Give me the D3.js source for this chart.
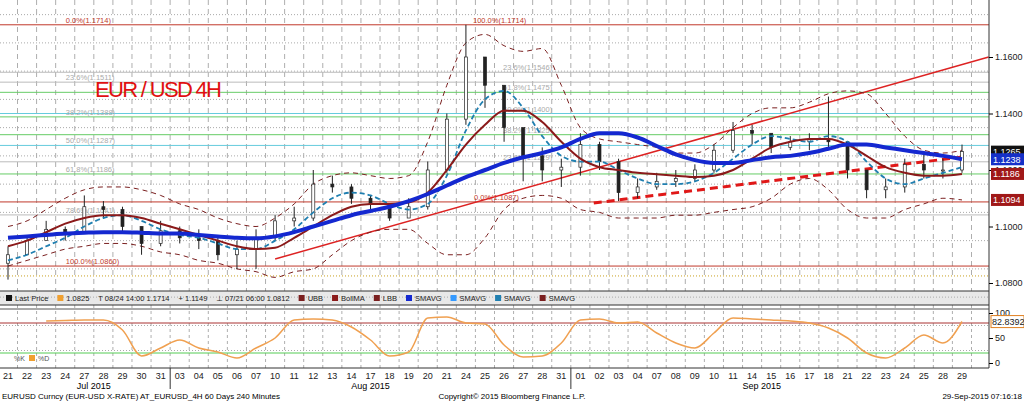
<!DOCTYPE html><html><head><meta charset="utf-8">
<script src="https://cdn.jsdelivr.net/npm/d3@7"></script>
<style>body{margin:0;background:#fff}svg{font-family:"Liberation Sans","DejaVu Sans",sans-serif}</style></head><body>
<svg id="c" width="1024" height="401"></svg>
<script>
const dayLabels=["21","22","23","24","27","28","29","30","31","03","04","05","06","07","10","11","12","13","14","17","18","19","20","21","24","25","26","27","28","31","01","02","03","04","07","08","09","10","11","14","15","16","17","18","21","22","23","24","25","28","29"];
const closes=[1.0900,1.0950,1.0990,1.0980,1.1070,1.1060,1.1000,1.0940,1.0985,1.0960,1.0950,1.0900,1.0920,1.0960,1.1020,1.1030,1.1150,1.1140,1.1100,1.1080,1.1030,1.1070,1.1200,1.1380,1.1600,1.1500,1.1350,1.1250,1.1200,1.1210,1.1290,1.1230,1.1120,1.1140,1.1160,1.1170,1.1200,1.1270,1.1340,1.1330,1.1280,1.1300,1.1310,1.1300,1.1200,1.1130,1.1140,1.1220,1.1200,1.1200,1.1265];
const highs=[1.0930,1.0970,1.1020,1.1000,1.1110,1.1090,1.1070,1.1000,1.1020,1.1000,1.0990,1.0960,1.0950,1.0990,1.1040,1.1070,1.1200,1.1180,1.1150,1.1110,1.1070,1.1100,1.1230,1.1400,1.1714,1.1560,1.1500,1.1300,1.1280,1.1240,1.1330,1.1300,1.1240,1.1170,1.1190,1.1200,1.1220,1.1290,1.1370,1.1360,1.1330,1.1320,1.1330,1.1460,1.1300,1.1180,1.1170,1.1240,1.1260,1.1240,1.1290];
const lows=[1.0812,1.0900,1.0950,1.0950,1.0980,1.1030,1.0980,1.0900,1.0930,1.0940,1.0920,1.0880,1.0850,1.0850,1.0950,1.1000,1.1020,1.1120,1.1080,1.1060,1.1020,1.1030,1.1060,1.1190,1.1360,1.1420,1.1300,1.1160,1.1160,1.1140,1.1180,1.1200,1.1090,1.1100,1.1130,1.1140,1.1160,1.1190,1.1260,1.1290,1.1260,1.1270,1.1270,1.1280,1.1170,1.1100,1.1100,1.1120,1.1170,1.1170,1.1190];
const smaLong=[1.0960,1.0965,1.0970,1.0975,1.0978,1.0980,1.0980,1.0978,1.0975,1.0975,1.0970,1.0965,1.0960,1.0958,1.0965,1.0980,1.1000,1.1020,1.1040,1.1055,1.1070,1.1090,1.1115,1.1145,1.1175,1.1200,1.1225,1.1245,1.1260,1.1280,1.1310,1.1330,1.1330,1.1315,1.1285,1.1255,1.1235,1.1225,1.1225,1.1235,1.1245,1.1250,1.1260,1.1275,1.1290,1.1290,1.1280,1.1270,1.1260,1.1250,1.1238];
const bollMA=[1.0930,1.0950,1.0980,1.1010,1.1030,1.1040,1.1040,1.1030,1.1010,1.0990,1.0970,1.0950,1.0930,1.0920,1.0925,1.0960,1.1000,1.1040,1.1070,1.1080,1.1080,1.1085,1.1120,1.1200,1.1290,1.1360,1.1410,1.1410,1.1370,1.1300,1.1240,1.1210,1.1200,1.1190,1.1185,1.1180,1.1175,1.1180,1.1200,1.1240,1.1280,1.1300,1.1310,1.1310,1.1290,1.1250,1.1210,1.1190,1.1180,1.1180,1.1186];
const upperBB=[1.1000,1.1020,1.1060,1.1100,1.1130,1.1140,1.1140,1.1130,1.1110,1.1080,1.1060,1.1030,1.1010,1.1000,1.1030,1.1080,1.1150,1.1180,1.1190,1.1180,1.1170,1.1180,1.1300,1.1500,1.1650,1.1680,1.1640,1.1620,1.1630,1.1500,1.1350,1.1310,1.1300,1.1290,1.1280,1.1260,1.1260,1.1290,1.1350,1.1400,1.1420,1.1420,1.1440,1.1470,1.1480,1.1470,1.1400,1.1320,1.1270,1.1260,1.1270];
const lowerBB=[1.0860,1.0880,1.0900,1.0920,1.0930,1.0940,1.0940,1.0930,1.0910,1.0900,1.0880,1.0870,1.0850,1.0840,1.0820,1.0840,1.0850,1.0900,1.0950,1.0980,1.0990,1.0990,1.0940,1.0900,1.0900,1.0960,1.1060,1.1100,1.1110,1.1100,1.1060,1.1050,1.1030,1.1030,1.1030,1.1040,1.1040,1.1050,1.1060,1.1070,1.1100,1.1150,1.1170,1.1130,1.1060,1.1030,1.1030,1.1060,1.1080,1.1100,1.1094];
const smaShort=[1.0880,1.0900,1.0930,1.0960,1.1000,1.1030,1.1040,1.1020,1.0990,1.0970,1.0960,1.0940,1.0920,1.0920,1.0950,1.0990,1.1050,1.1100,1.1120,1.1110,1.1080,1.1060,1.1080,1.1180,1.1340,1.1450,1.1480,1.1420,1.1320,1.1250,1.1230,1.1230,1.1200,1.1170,1.1150,1.1150,1.1160,1.1190,1.1240,1.1290,1.1320,1.1310,1.1300,1.1320,1.1300,1.1230,1.1170,1.1150,1.1170,1.1190,1.1210];
const stoch=[null,null,84,85,86,86,66,14,30,46,30,22,10,30,50,86,88,86,72,46,14,22,90,92,80,78,36,12,14,40,86,88,80,82,60,40,30,60,90,88,86,84,80,70,50,20,10,30,56,40,83];
const fibLevels=[[1.1714,"#c0392b"],[1.1511,"#bbb"],[1.1388,"#6c6"],[1.1287,"#6cd"],[1.1186,"#6c6"],[1.1041,"#bbb"],[1.0860,"#c0392b"],[1.1546,"#bbb"],[1.1475,"#6c6"],[1.1400,"#6cd"],[1.1325,"#6c6"],[1.1229,"#bbb"],[1.1087,"#c0392b"]];
const fibLabels1=[["0.0%(1.1714)",1.1714],["23.6%(1.1511)",1.1511],["38.2%(1.1388)",1.1388],["50.0%(1.1287)",1.1287],["61.8%(1.1186)",1.1186],["78.6%(1.1041)",1.1041],["100.0%(1.0860)",1.0860]];
const fibLabels2=[["100.0%(1.1714)",1.1714],["23.6%(1.1546)",1.1546],["61.8%(1.1475)",1.1475],["50.0%(1.1400)",1.1400],["38.2%(1.1325)",1.1325],["23.6%(1.1229)",1.1229],["0.0%(1.1087)",1.1087]];
const trendUp=[[14,1.0885],[51.4,1.1600]];
const trendDash=[[30.7,1.1083],[50,1.1246]];
const priceTicks=[1.08,1.10,1.12,1.14,1.16];
const stochTicks=[0,50,100];
const tags=[[1.1265,"1.1265","#111"],[1.1238,"1.1238","#1530c8"],[1.1186,"1.1186","#a01818"],[1.1094,"1.1094","#a01818"]];

const svg=d3.select("#c");
const x=d3.scaleLinear().domain([0,50]).range([8,962]);
const y=d3.scaleLinear().domain([1.08,1.16]).range([283,57]);
const ys=d3.scaleLinear().domain([0,100]).range([363,313]);
const R=989;
svg.append("rect").attr("x",0).attr("y",291).attr("width",R).attr("height",14).attr("fill","#e8e8e8");
const g=svg.append("g");
dayLabels.forEach((d,i)=>{g.append("line").attr("x1",x(i)+9.5).attr("x2",x(i)+9.5).attr("y1",0).attr("y2",291).attr("stroke","#999").attr("stroke-dasharray","5,4").attr("stroke-width",0.8);
 g.append("line").attr("x1",x(i)+9.5).attr("x2",x(i)+9.5).attr("y1",305).attr("y2",368).attr("stroke","#999").attr("stroke-dasharray","3,3").attr("stroke-width",0.8);});
d3.range(1.075,1.176,0.01).forEach(v=>g.append("line").attr("x1",0).attr("x2",R).attr("y1",y(v)).attr("y2",y(v)).attr("stroke","#aaa").attr("stroke-dasharray","1,2"));
[25,75].forEach(v=>g.append("line").attr("x1",0).attr("x2",R).attr("y1",ys(v)).attr("y2",ys(v)).attr("stroke","#aaa").attr("stroke-dasharray","1,2"));
fibLevels.forEach(([v,c])=>g.append("line").attr("x1",0).attr("x2",R).attr("y1",y(v)).attr("y2",y(v)).attr("stroke",c).attr("stroke-width",1));
g.append("line").attr("x1",0).attr("x2",R).attr("y1",y(1.0825)).attr("y2",y(1.0825)).attr("stroke","#c9a020").attr("stroke-dasharray","1,2");
fibLabels1.forEach(([t,v])=>g.append("text").attr("x",x(4.5)-28).attr("y",y(v)-2).attr("font-size",7.5).attr("fill",v==1.1714||v==1.086?"#c0392b":"#aaa").text(t));
fibLabels2.forEach(([t,v])=>g.append("text").attr("x",v==1.1087?474:(v==1.1714?473:503)).attr("y",y(v)-2).attr("font-size",7.5).attr("fill",v==1.1714||v==1.1087?"#c0392b":"#aaa").text(t));
const ln=d3.line().x(d=>x(d[0])).y(d=>y(d[1]));
svg.append("path").attr("d",ln(trendUp)).attr("stroke","#d22").attr("stroke-width",1.5).attr("fill","none");
svg.append("path").attr("d",ln(trendDash)).attr("stroke","#e01818").attr("stroke-width",3).attr("stroke-dasharray","8,5").attr("fill","none");
const sl=d3.line().x((d,i)=>x(i)).y(d=>y(d)).curve(d3.curveMonotoneX);
svg.append("path").attr("d",sl(upperBB)).attr("stroke","#7a1f1f").attr("stroke-dasharray","5,4").attr("fill","none");
svg.append("path").attr("d",sl(lowerBB)).attr("stroke","#7a1f1f").attr("stroke-dasharray","5,4").attr("fill","none");
const cg=svg.append("g");
closes.forEach((c,i)=>{const o=i?closes[i-1]:1.0870;cg.append("line").attr("x1",x(i)).attr("x2",x(i)).attr("y1",y(highs[i])).attr("y2",y(lows[i])).attr("stroke","#222");
 cg.append("rect").attr("x",x(i)-1.5).attr("width",3).attr("y",y(Math.max(o,c))).attr("height",Math.max(1,Math.abs(y(o)-y(c)))).attr("fill",c>=o?"#fff":"#222").attr("stroke","#222").attr("stroke-width",0.7);});
svg.append("path").attr("d",sl(smaShort)).attr("stroke","#1f7fb0").attr("stroke-width",1.8).attr("stroke-dasharray","5,3").attr("fill","none");
svg.append("path").attr("d",sl(bollMA)).attr("stroke","#8b1a1a").attr("stroke-width",2).attr("fill","none");
svg.append("path").attr("d",sl(smaLong)).attr("stroke","#1428d0").attr("stroke-width",4).attr("fill","none");
svg.append("text").attr("x",95).attr("y",97).attr("font-family","Liberation Sans Narrow, Liberation Sans").attr("font-size",22).attr("textLength",127).attr("fill","#e01010").text("EUR / USD 4H");
svg.append("line").attr("x1",0).attr("x2",R).attr("y1",ys(80)).attr("y2",ys(80)).attr("stroke","#a33");
svg.append("line").attr("x1",0).attr("x2",R).attr("y1",ys(20)).attr("y2",ys(20)).attr("stroke","#5c5");
const stl=d3.line().defined(d=>d!=null).x((d,i)=>x(i)).y(d=>ys(d)).curve(d3.curveMonotoneX);
svg.append("path").attr("d",stl(stoch)).attr("stroke","#f0a050").attr("stroke-width",1.5).attr("fill","none");
svg.append("text").attr("x",14).attr("y",361).attr("font-size",7).attr("fill","#555").text("%K");
svg.append("rect").attr("x",29).attr("y",355).attr("width",6).attr("height",6).attr("fill","#f0a030");
svg.append("text").attr("x",38).attr("y",361).attr("font-size",7).attr("fill","#555").text("%D");
[[0,291,R,291],[0,305,R,305],[0,368,R,368],[R,0,R,368]].forEach(a=>svg.append("line").attr("x1",a[0]).attr("y1",a[1]).attr("x2",a[2]).attr("y2",a[3]).attr("stroke","#333"));
svg.append("line").attr("x1",0).attr("x2",R).attr("y1",309).attr("y2",309).attr("stroke","#555");
const ay=svg.append("g").attr("transform",`translate(${R},0)`).call(d3.axisRight(y).tickValues(priceTicks).tickFormat(d3.format(".4f")).tickSize(4).tickPadding(2));
const as=svg.append("g").attr("transform",`translate(${R},0)`).call(d3.axisRight(ys).tickValues(stochTicks).tickSize(4).tickPadding(2));
[ay,as].forEach(a=>{a.select(".domain").remove();a.selectAll("text").attr("font-size",9).attr("font-family","Liberation Sans").attr("fill","#222");});
tags.forEach(([v,t,c])=>{svg.append("rect").attr("x",R+2).attr("y",y(v)-6).attr("width",33).attr("height",12).attr("fill",c);svg.append("text").attr("x",R+4).attr("y",y(v)+3.5).attr("font-size",9).attr("fill","#fff").text(t);});
svg.append("rect").attr("x",R+2).attr("y",ys(82.84)-6).attr("width",33).attr("height",12).attr("fill","#fff").attr("stroke","#e08020");
svg.append("text").attr("x",R+3).attr("y",ys(82.84)+3.5).attr("font-size",9).attr("fill","#222").text("82.8392");
dayLabels.forEach((d,i)=>svg.append("text").attr("x",x(i)).attr("y",379).attr("font-size",9).attr("text-anchor","middle").attr("fill","#222").text(d));
[8.5,29.5].forEach(i=>svg.append("line").attr("x1",x(i)).attr("x2",x(i)).attr("y1",368).attr("y2",389).attr("stroke","#333"));
[["Jul 2015",4.5],["Aug 2015",19],["Sep 2015",39.5]].forEach(([t,i])=>svg.append("text").attr("x",x(i)).attr("y",389).attr("font-size",9).attr("text-anchor","middle").text(t));
const leg=[["Last Price","#111"],["1.0825","#f0a030"],["T 08/24 14:00 1.1714",null],["+ 1.1149",null],["⊥ 07/21 06:00 1.0812",null],["UBB","#7a1f1f"],["BollMA","#8b1a1a"],["LBB","#7a1f1f"],["SMAVG","#1428d0"],["SMAVG","#3399ff"],["SMAVG","#1f7fb0"],["SMAVG","#7a1f1f"]];
let lx=6;leg.forEach(([t,c])=>{if(c){svg.append("rect").attr("x",lx).attr("y",295).attr("width",6).attr("height",6).attr("fill",c);lx+=9;}
 const tx=svg.append("text").attr("x",lx).attr("y",301).attr("font-size",7.5).attr("fill","#222").text(t);lx+=tx.node().getComputedTextLength()+9;});
svg.append("text").attr("x",2).attr("y",399).attr("font-size",8).text("EURUSD Curncy (EUR-USD X-RATE) AT_EURUSD_4H 60 Days 240 Minutes");
svg.append("text").attr("x",512).attr("y",399).attr("font-size",8).attr("text-anchor","middle").text("Copyright© 2015 Bloomberg Finance L.P.");
svg.append("text").attr("x",1022).attr("y",399).attr("font-size",8).attr("text-anchor","end").text("29-Sep-2015 07:16:18");
</script></body></html>
